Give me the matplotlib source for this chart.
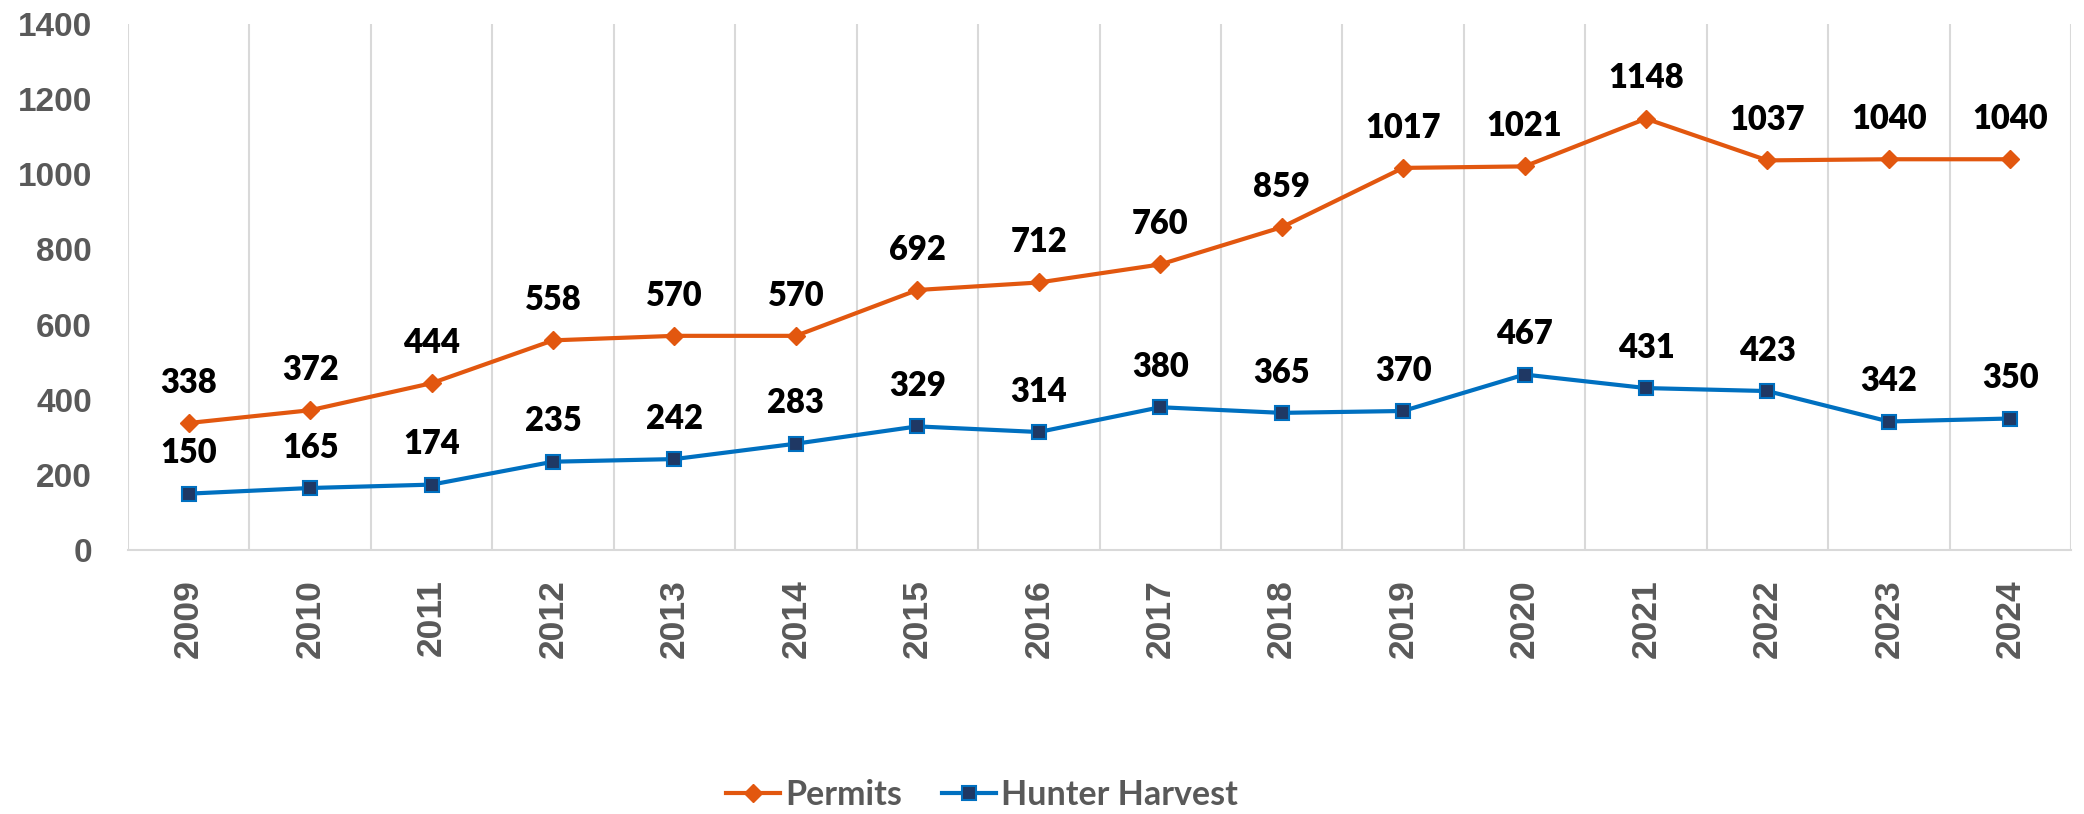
import matplotlib
matplotlib.use("Agg")
import matplotlib.pyplot as plt
import numpy as np

years = ["2009", "2010", "2011", "2012", "2013", "2014", "2015", "2016",
         "2017", "2018", "2019", "2020", "2021", "2022", "2023", "2024"]
permits = [338, 372, 444, 558, 570, 570, 692, 712, 760, 859, 1017, 1021, 1148, 1037, 1040, 1040]
harvest = [150, 165, 174, 235, 242, 283, 329, 314, 380, 365, 370, 467, 431, 423, 342, 350]
yticks = [0, 200, 400, 600, 800, 1000, 1200, 1400]

W, H = 2084, 814
fig = plt.figure(figsize=(W / 100, H / 100), dpi=100)
ax = fig.add_axes([128 / W, (H - 550) / H, (2071 - 128) / W, (550 - 24) / H])

orange = "#E2570F"
blue = "#0070C0"
navy = "#1F3864"
gray_txt = "#595959"
grid_c = "#D9D9D9"

x = np.arange(len(years))
ax.plot(x, permits, color=orange, lw=3, marker="D", markersize=9,
        markerfacecolor=orange, markeredgecolor=orange, label="Permits", zorder=3)
ax.plot(x, harvest, color=blue, lw=3, marker="s", markersize=10.5,
        markerfacecolor=navy, markeredgecolor=blue, markeredgewidth=1.5,
        label="Hunter Harvest", zorder=3)

lab_font = dict(family="Lato", weight="heavy", size=23.5, color="black")
for xi, v in zip(x, permits):
    ax.annotate(str(v), (xi, v), xytext=(0, 29), textcoords="offset points",
                ha="center", va="center", **lab_font)
for xi, v in zip(x, harvest):
    ax.annotate(str(v), (xi, v), xytext=(0, 29), textcoords="offset points",
                ha="center", va="center", **lab_font)

ax.set_xlim(-0.5, len(years) - 0.5)
ax.set_ylim(0, 1400)
ax.set_yticks(yticks)
ax.set_yticklabels([str(t) for t in yticks])
ax.set_xticks(x)
ax.set_xticklabels(years, rotation=90)

for lbl in ax.get_yticklabels():
    lbl.set_fontfamily("Liberation Sans")
    lbl.set_fontweight("bold")
    lbl.set_fontsize(24)
    lbl.set_color(gray_txt)
for lbl in ax.get_xticklabels():
    lbl.set_fontfamily("Liberation Sans")
    lbl.set_fontweight("bold")
    lbl.set_fontsize(25.5)
    lbl.set_color(gray_txt)

ax.tick_params(axis="y", length=0, pad=26)
ax.tick_params(axis="x", length=0, pad=21)

# vertical gridlines at category boundaries
ax.set_xticks(np.arange(-0.5, len(years), 1.0), minor=True)
ax.tick_params(axis="x", which="minor", length=0)
ax.grid(which="minor", axis="x", color=grid_c, lw=1.5)
ax.grid(which="major", visible=False)

for s in ["top", "right", "left"]:
    ax.spines[s].set_visible(False)
ax.spines["bottom"].set_color(grid_c)
ax.spines["bottom"].set_linewidth(1.5)

leg = fig.legend(loc="center", bbox_to_anchor=(982 / W, (H - 795) / H),
                 ncol=2, frameon=False, handlelength=1.6, handletextpad=0.15,
                 columnspacing=1.15, borderpad=0,
                 prop=dict(family="Lato", weight="bold", size=24.5))
for t in leg.get_texts():
    t.set_color(gray_txt)

fig.savefig("out.png", dpi=100)
